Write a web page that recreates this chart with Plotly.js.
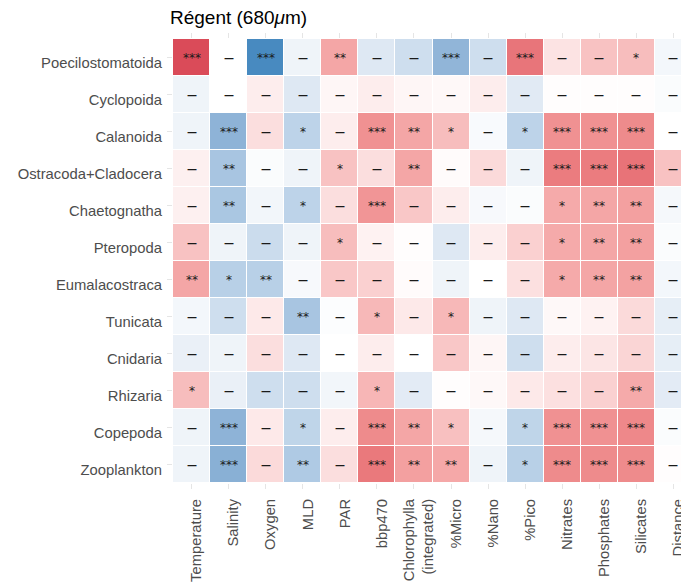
<!DOCTYPE html>
<html>
<head>
<meta charset="utf-8">
<script src="https://cdn.plot.ly/plotly-3.0.1.min.js"></script>
<style>
html, body { margin: 0; padding: 0; background: #ffffff; overflow: hidden; width: 681px; height: 582px; }
#chart { width: 720px; height: 582px; }
</style>
</head>
<body>
<div id="chart"></div>
<script>
// Environmental variables (columns)
const variables = ['Temperature', 'Salinity', 'Oxygen', 'MLD', 'PAR', 'bbp470',
  'Chlorophylla<br>(integrated)', '%Micro', '%Nano', '%Pico', 'Nitrates', 'Phosphates', 'Silicates', 'Distance'];

// Taxonomic groups (rows, top to bottom)
const groups = ['Poecilostomatoida', 'Cyclopoida', 'Calanoida', 'Ostracoda+Cladocera', 'Chaetognatha',
  'Pteropoda', 'Eumalacostraca', 'Tunicata', 'Cnidaria', 'Rhizaria', 'Copepoda', 'Zooplankton'];

// Correlation values (estimated from colour), one list per group
const corr = [
  [ 0.88,  0.00, -0.80, -0.10,  0.42, -0.20, -0.27, -0.52, -0.27,  0.66,  0.15,  0.30,  0.32, -0.07],
  [-0.10,  0.00,  0.10, -0.20,  0.05,  0.10,  0.05,  0.04,  0.10, -0.18,  0.01,  0.01,  0.01, -0.03],
  [-0.10, -0.53,  0.18, -0.34,  0.10,  0.52,  0.42,  0.32, -0.04, -0.34,  0.52,  0.52,  0.55,  0.00],
  [ 0.08, -0.43, -0.03, -0.10,  0.30,  0.18,  0.42,  0.02,  0.20, -0.10,  0.62,  0.62,  0.67,  0.30],
  [ 0.08, -0.42, -0.08, -0.34,  0.18,  0.50,  0.28,  0.10, -0.05, -0.03,  0.40,  0.42,  0.45, -0.06],
  [ 0.30, -0.10, -0.28, -0.10,  0.32,  0.07,  0.01, -0.20,  0.10,  0.24,  0.40,  0.42,  0.45, -0.03],
  [ 0.42, -0.36, -0.36, -0.05,  0.28,  0.24,  0.02, -0.10,  0.00,  0.17,  0.40,  0.42,  0.44, -0.07],
  [-0.07, -0.27,  0.12, -0.43, -0.02,  0.34,  0.12,  0.34, -0.10, -0.20,  0.04,  0.07,  0.20, -0.15],
  [-0.13, -0.10,  0.18, -0.20,  0.00,  0.10,  0.00,  0.28,  0.05, -0.27,  0.10,  0.14,  0.22, -0.15],
  [ 0.32, -0.13, -0.27, -0.27, -0.08,  0.35, -0.17,  0.01,  0.04,  0.12,  0.17,  0.24,  0.40, -0.17],
  [-0.10, -0.53,  0.12, -0.33,  0.10,  0.55,  0.42,  0.31, -0.06, -0.33,  0.52,  0.52,  0.56, -0.03],
  [-0.10, -0.55,  0.20, -0.40,  0.18,  0.64,  0.45,  0.41, -0.10, -0.36,  0.55,  0.55,  0.55,  0.01]
];

// Significance codes ('' = not significant)
const signif = [
  ['***', '', '***', '', '**', '', '', '***', '', '***', '', '', '*', ''],
  ['', '', '', '', '', '', '', '', '', '', '', '', '', ''],
  ['', '***', '', '*', '', '***', '**', '*', '', '*', '***', '***', '***', ''],
  ['', '**', '', '', '*', '', '**', '', '', '', '***', '***', '***', ''],
  ['', '**', '', '*', '', '***', '', '', '', '', '*', '**', '**', ''],
  ['', '', '', '', '*', '', '', '', '', '', '*', '**', '**', ''],
  ['**', '*', '**', '', '', '', '', '', '', '', '*', '**', '**', ''],
  ['', '', '', '**', '', '*', '', '*', '', '', '', '', '', ''],
  ['', '', '', '', '', '', '', '', '', '', '', '', '', ''],
  ['*', '', '', '', '', '*', '', '', '', '', '', '', '**', ''],
  ['', '***', '', '*', '', '***', '**', '*', '', '*', '***', '***', '***', ''],
  ['', '***', '', '**', '', '***', '**', '**', '', '*', '***', '***', '***', '']
];

const DASH = '<span style="font-size:10px;font-weight:bold">—</span>';
const cellText = signif.map(r => r.map(s => s === '' ? DASH : s));

const colorscale = [
  [0.0, '#2166ac'], [0.1, '#488ac0'], [0.2, '#7da7d0'], [0.3, '#afcae4'], [0.4, '#dee8f3'],
  [0.5, '#ffffff'],
  [0.6, '#fbdada'], [0.7, '#f5aaaa'], [0.8, '#ec8082'], [0.9, '#e05c66'], [1.0, '#d23246']
];

const trace = {
  type: 'heatmap',
  x: variables,
  y: groups,
  z: corr,
  zmin: -1, zmax: 1,
  colorscale: colorscale,
  showscale: false,
  xgap: 1, ygap: 1,
  text: cellText,
  texttemplate: '%{text}',
  textfont: { family: 'DejaVu Sans', size: 12, color: '#1a1a1a' },
  hoverinfo: 'x+y+z'
};

const labelFont = { family: 'Liberation Sans, Arial, sans-serif', size: 14.8, color: '#4d4d4d' };

const layout = {
  width: 720, height: 582,
  margin: { l: 173, r: 28, t: 39, b: 99, pad: 0 },
  paper_bgcolor: '#ffffff',
  plot_bgcolor: '#ffffff',
  title: {
    text: 'Régent (680<i>μ</i>m)',
    font: { family: 'Liberation Sans, Arial, sans-serif', size: 19, color: '#000000' },
    xref: 'container', x: 170 / 720, xanchor: 'left',
    yref: 'container', y: 1 - 17 / 582, yanchor: 'middle'
  },
  xaxis: {
    type: 'category',
    tickangle: -90,
    tickfont: labelFont,
    ticks: 'outside', ticklen: 5, tickcolor: '#e5e5e5', tickwidth: 1,
    mirror: 'ticks',
    ticklabelshift: 5,
    ticklabelstandoff: 4,
    showgrid: false, zeroline: false, showline: false,
    fixedrange: true
  },
  yaxis: {
    type: 'category',
    autorange: 'reversed',
    tickfont: labelFont,
    ticks: 'outside', ticklen: 5, tickcolor: '#e5e5e5', tickwidth: 1,
    ticklabelshift: -5,
    ticklabelstandoff: 2,
    showgrid: false, zeroline: false, showline: false,
    fixedrange: true
  },
  showlegend: false
};

Plotly.newPlot('chart', [trace], layout, { displayModeBar: false, responsive: false });
</script>
</body>
</html>
